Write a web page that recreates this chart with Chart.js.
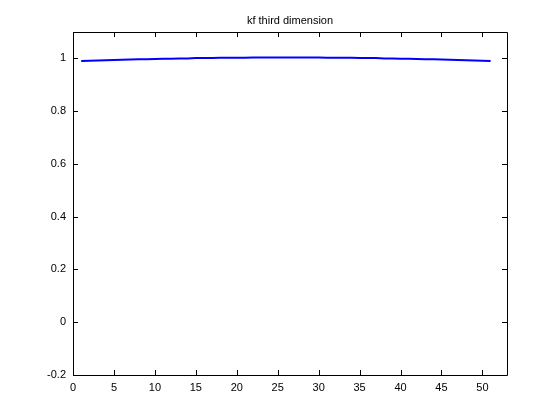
<!DOCTYPE html>
<html lang="en">
<head>
    <meta charset="UTF-8">
    <title>kf third dimension</title>
    <script src="https://cdn.jsdelivr.net/npm/chart.js@4/dist/chart.umd.min.js"></script>
    <style>
        html, body { margin: 0; padding: 0; background: #fff; }
        #chart-container { width: 560px; height: 420px; }
    </style>
</head>
<body>
    <div id="chart-container">
        <canvas id="myChart" width="560" height="420"></canvas>
    </div>

    <script>
        // Data
        const chartTitle = 'kf third dimension';
        const xValues = [1, 2, 3, 4, 5, 6, 7, 8, 9, 10, 11, 12, 13, 14, 15, 16, 17, 18, 19, 20,
            21, 22, 23, 24, 25, 26, 27, 28, 29, 30, 31, 32, 33, 34, 35, 36, 37, 38, 39, 40,
            41, 42, 43, 44, 45, 46, 47, 48, 49, 50, 51];
        const kfValues = [0.990, 0.991, 0.992, 0.993, 0.994, 0.995, 0.996, 0.997, 0.997, 0.998,
            0.999, 0.999, 1.000, 1.000, 1.001, 1.001, 1.001, 1.002, 1.002, 1.002,
            1.002, 1.003, 1.003, 1.003, 1.003, 1.003, 1.003, 1.003, 1.003, 1.003,
            1.002, 1.002, 1.002, 1.002, 1.001, 1.001, 1.001, 1.000, 1.000, 0.999,
            0.999, 0.998, 0.997, 0.997, 0.996, 0.995, 0.994, 0.993, 0.992, 0.991, 0.990];
        const xTicks = [0, 5, 10, 15, 20, 25, 30, 35, 40, 45, 50];
        const yTicks = [-0.2, 0, 0.2, 0.4, 0.6, 0.8, 1];

        const FONT = 'Liberation Sans, Arial, Helvetica, sans-serif';

        // Draws the box, inward ticks and the title the way MATLAB does
        const framePlugin = {
            id: 'frame',
            afterDraw(chart) {
                const ctx = chart.ctx;
                const a = chart.chartArea;
                const xs = chart.scales.x;
                const ys = chart.scales.y;
                ctx.save();
                ctx.strokeStyle = '#000';
                ctx.lineWidth = 1;
                ctx.beginPath();
                ctx.rect(Math.round(a.left) + 0.5, Math.round(a.top) + 0.5,
                    Math.round(a.right - a.left), Math.round(a.bottom - a.top));
                const len = 5;
                xTicks.forEach(v => {
                    const px = Math.round(xs.getPixelForValue(v)) + 0.5;
                    ctx.moveTo(px, a.bottom); ctx.lineTo(px, a.bottom - len);
                    ctx.moveTo(px, a.top); ctx.lineTo(px, a.top + len);
                });
                yTicks.forEach(v => {
                    const py = Math.round(ys.getPixelForValue(v)) + 0.5;
                    ctx.moveTo(a.left, py); ctx.lineTo(a.left + len, py);
                    ctx.moveTo(a.right, py); ctx.lineTo(a.right - len, py);
                });
                ctx.stroke();

                ctx.fillStyle = '#000';
                ctx.font = '11px ' + FONT;
                ctx.textAlign = 'center';
                ctx.textBaseline = 'middle';
                ctx.fillText(chartTitle, (a.left + a.right) / 2, 21);
                ctx.restore();
            }
        };

        const ctx = document.getElementById('myChart').getContext('2d');
        const myChart = new Chart(ctx, {
            type: 'line',
            data: {
                datasets: [{
                    label: 'kf',
                    data: xValues.map((x, i) => ({ x: x, y: kfValues[i] })),
                    borderColor: '#0000ff',
                    borderWidth: 2,
                    pointRadius: 0,
                    fill: false,
                    tension: 0
                }]
            },
            options: {
                responsive: false,
                animation: false,
                layout: { padding: { top: 32, right: 53, left: 0, bottom: 0 } },
                plugins: {
                    legend: { display: false },
                    title: { display: false },
                    tooltip: { enabled: false }
                },
                scales: {
                    x: {
                        type: 'linear',
                        min: 0,
                        max: 53,
                        grid: { display: false, drawTicks: false },
                        border: { display: false },
                        afterBuildTicks: s => { s.ticks = xTicks.map(v => ({ value: v })); },
                        afterFit: s => { s.height = 45; },
                        ticks: {
                            color: '#000',
                            padding: 6,
                            maxRotation: 0,
                            font: { family: FONT, size: 11 }
                        }
                    },
                    y: {
                        type: 'linear',
                        min: -0.2,
                        max: 1.1,
                        grid: { display: false, drawTicks: false },
                        border: { display: false },
                        afterBuildTicks: s => { s.ticks = yTicks.map(v => ({ value: v })); },
                        afterFit: s => { s.width = 73; },
                        ticks: {
                            color: '#000',
                            padding: 7,
                            font: { family: FONT, size: 11 },
                            callback: v => String(Math.round(v * 10) / 10)
                        }
                    }
                }
            },
            plugins: [framePlugin]
        });
    </script>
</body>
</html>
